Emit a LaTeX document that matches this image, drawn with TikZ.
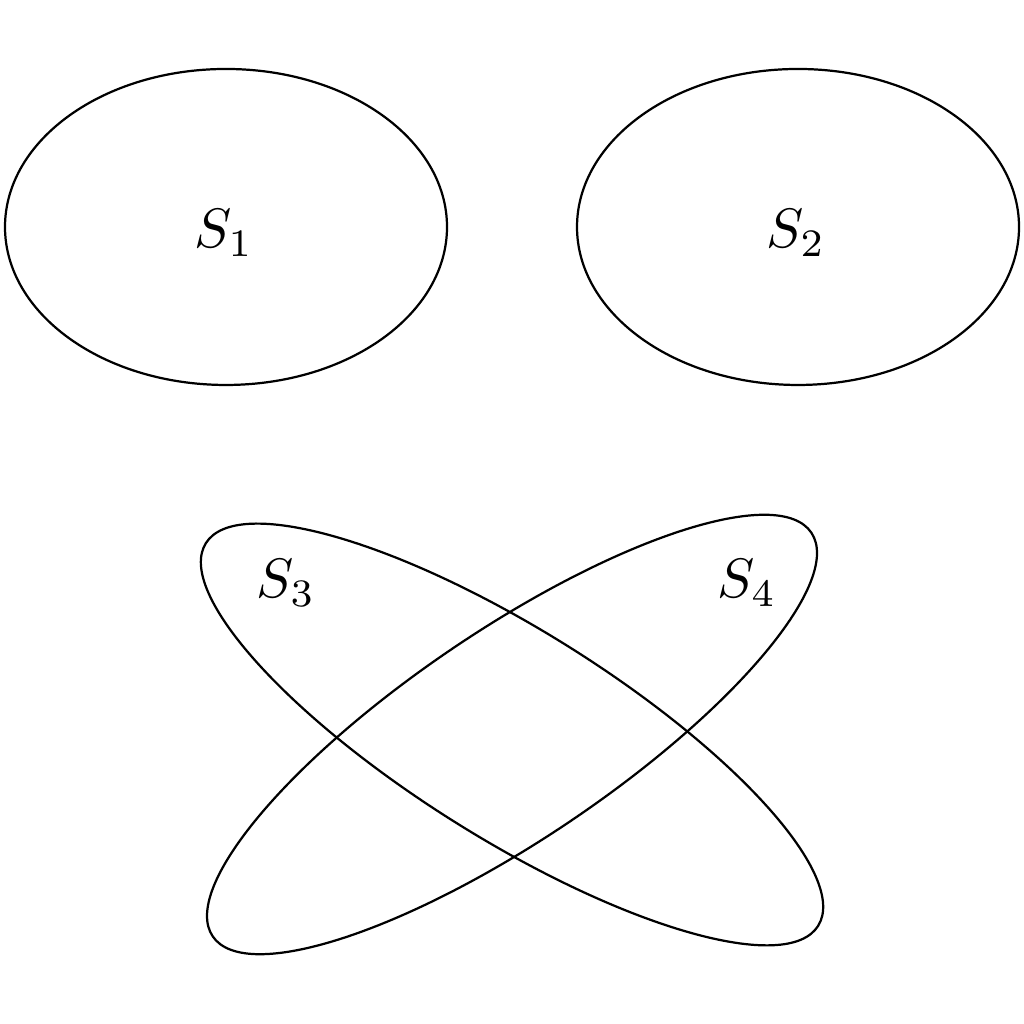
\documentclass[tikz,border=0pt]{standalone}
\begin{document}
\begin{tikzpicture}[x=0.18pt,y=0.18pt,line width=0.4pt,
  setshape/.style={draw=black},
  setlabel/.style={inner sep=0pt}]
\useasboundingbox (0,0) rectangle (1024,1024);
\draw[setshape] (226,797) ellipse (221 and 158);
\draw[setshape] (798,797) ellipse (221 and 158);
\draw[setshape, rotate around={-32:(512,289.5)}] (512,289.5) ellipse (361 and 104.5);
\draw[setshape, rotate around={34:(512,289.5)}] (512,289.5) ellipse (361 and 104.5);
\node[setlabel] (s1) at (224,791) {$S_1$};
\node[setlabel] (s2) at (796,791) {$S_2$};
\node[setlabel] (s3) at (286,441) {$S_3$};
\node[setlabel] (s4) at (747,441) {$S_4$};
\end{tikzpicture}
\end{document}
